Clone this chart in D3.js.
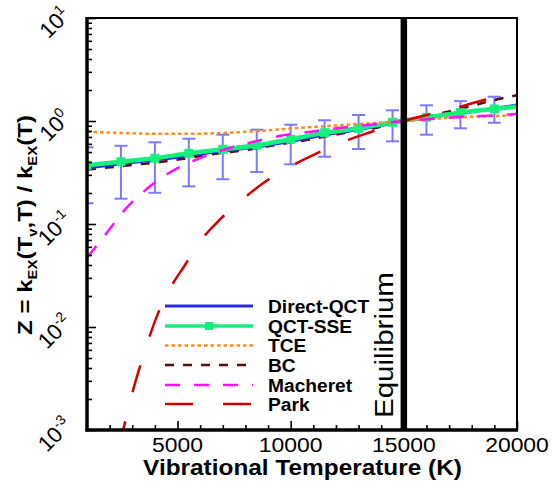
<!DOCTYPE html>
<html>
<head>
<meta charset="utf-8">
<script src="https://cdn.jsdelivr.net/npm/d3@7"></script>
<style>
  body { margin: 0; background: #fff; }
  svg { display: block; }
  text { font-family: "Liberation Sans", Arial, Helvetica, sans-serif; fill: #000; }
</style>
</head>
<body>
<svg id="chart" width="552" height="483"></svg>
<script>
// ---- data -------------------------------------------------------------
// QCT-SSE fit (markers) with Direct-QCT uncertainty bars
const sseT = [1000, 2500, 4000, 5500, 7000, 8500, 10000, 11500, 13000, 14500, 16000, 17500, 19000];
const sseZ = [0.372, 0.403, 0.435, 0.486, 0.531, 0.581, 0.664, 0.769, 0.849, 0.971, 1.086, 1.205, 1.309];
const sseEndT = 20000;
const sseEndZ = 1.38;
const errLow  = [0.159, 0.176, 0.201, 0.232, 0.272, 0.320, 0.380, 0.450, 0.535, 0.635, 0.736, 0.849, 0.962];
const errHigh = [0.555, 0.575, 0.621, 0.673, 0.736, 0.823, 0.920, 1.016, 1.143, 1.270, 1.420, 1.560, 1.720];

// Direct-QCT
const qctT = [1000, 2500, 4000, 5500, 7000, 8500, 10000, 11500, 13000, 14500, 15000, 16000, 17500, 19000, 20000];
const qctZ = [0.350, 0.385, 0.418, 0.462, 0.510, 0.560, 0.635, 0.730, 0.825, 0.950, 1.000, 1.075, 1.190, 1.320, 1.430];

// TCE
const tceT = [1000, 2500, 4000, 5500, 7000, 8000, 9000, 10000, 11000, 12000, 13000, 14000, 15000, 16000, 17000, 18000, 19000, 20000];
const tceZ = [0.787, 0.765, 0.752, 0.752, 0.765, 0.785, 0.810, 0.845, 0.875, 0.905, 0.935, 0.965, 1.000, 1.040, 1.070, 1.100, 1.120, 1.140];

// BC
const bcT = [1000, 3000, 4700, 6300, 8000, 9800, 10700, 12300, 14000, 15000, 16000, 17000, 18000, 19000, 20000];
const bcZ = [0.338, 0.374, 0.412, 0.468, 0.523, 0.607, 0.654, 0.760, 0.880, 1.000, 1.100, 1.240, 1.400, 1.600, 1.780];

// Macheret
const macT = [1000, 1800, 2600, 3500, 4600, 5700, 7000, 8200, 9500, 10900, 12000, 13400, 15000, 16000, 17300, 18700, 20000];
const macZ = [0.047, 0.078, 0.132, 0.206, 0.311, 0.409, 0.523, 0.616, 0.715, 0.787, 0.849, 0.915, 1.000, 1.040, 1.087, 1.125, 1.170];

// Park
const parkT = [2400, 2600, 2900, 3270, 3640, 4080, 4590, 5330, 5990, 6880, 7840, 8870, 9970, 11150, 12330, 13580, 15000, 16010, 17260, 18660, 20000];
const parkZ = [0.00066, 0.001, 0.00188, 0.00368, 0.00668, 0.0126, 0.022, 0.040, 0.0673, 0.111, 0.171, 0.257, 0.360, 0.486, 0.630, 0.787, 1.000, 1.143, 1.330, 1.620, 1.790];

// axes
const xMajorTicks = [5000, 10000, 15000, 20000];
const xMinorTicks = [2000, 3000, 4000, 6000, 7000, 8000, 9000, 11000, 12000, 13000, 14000, 16000, 17000, 18000, 19000];
const yMajorTicks = [1e-3, 1e-2, 1e-1, 1, 10];
const yTickExponents = ["-3", "-2", "-1", "0", "1"];
const equilibriumT = 15000;
const legendNames = ["Direct-QCT", "QCT-SSE", "TCE", "BC", "Macheret", "Park"];

// ---- layout -----------------------------------------------------------
const X0 = 87, X1 = 517, Y0 = 18, Y1 = 430;
const svg = d3.select("#chart");
const x = d3.scaleLinear().domain([1000, 20000]).range([X0, X1]);
const y = d3.scaleLog().domain([1e-3, 1e1]).range([Y1, Y0]);

svg.append("rect").attr("width", 552).attr("height", 483).attr("fill", "#fff");

svg.append("defs").append("clipPath").attr("id", "plotClip")
  .append("rect").attr("x", X0).attr("y", Y0).attr("width", X1 - X0).attr("height", Y1 - Y0);

const styles = {
  qct:  { color: "#2a2ae8", width: 3,   dash: null },
  sse:  { color: "#16ef7c", width: 4.5, dash: null },
  tce:  { color: "#ff8a1c", width: 2.5, dash: "3.5,3" },
  bc:   { color: "#5a0c0c", width: 2.5, dash: "9,9" },
  mac:  { color: "#ff10ff", width: 2.5, dash: "15,14" },
  park: { color: "#d20000", width: 2.5, dash: "28,30" }
};

const plot = svg.append("g").attr("clip-path", "url(#plotClip)");

// error bars
const errColor = "#7a7aff";
const bars = plot.append("g").attr("stroke", errColor).attr("stroke-width", 2);
sseT.forEach((t, i) => {
  const cx = x(t);
  bars.append("line").attr("x1", cx).attr("x2", cx).attr("y1", y(errLow[i])).attr("y2", y(errHigh[i]));
  bars.append("line").attr("x1", cx - 6.5).attr("x2", cx + 6.5).attr("y1", y(errLow[i])).attr("y2", y(errLow[i]));
  bars.append("line").attr("x1", cx - 6.5).attr("x2", cx + 6.5).attr("y1", y(errHigh[i])).attr("y2", y(errHigh[i]));
});

const line = d3.line().x(d => x(d[0])).y(d => y(d[1])).curve(d3.curveMonotoneX);
function drawCurve(ts, zs, st) {
  plot.append("path")
    .datum(ts.map((t, i) => [t, zs[i]]))
    .attr("d", line)
    .attr("fill", "none")
    .attr("stroke", st.color)
    .attr("stroke-width", st.width)
    .attr("stroke-dasharray", st.dash);
}

drawCurve(bcT, bcZ, styles.bc);
drawCurve(qctT, qctZ, styles.qct);
drawCurve(sseT.concat([sseEndT]), sseZ.concat([sseEndZ]), styles.sse);
plot.append("g").selectAll("rect").data(sseT.map((t, i) => [t, sseZ[i]])).join("rect")
  .attr("x", d => x(d[0]) - 4.5).attr("y", d => y(d[1]) - 4.5)
  .attr("width", 9).attr("height", 9).attr("fill", styles.sse.color);
drawCurve(tceT, tceZ, styles.tce);
drawCurve(macT, macZ, styles.mac);
drawCurve(parkT, parkZ, styles.park);

// equilibrium marker
svg.append("line")
  .attr("x1", x(equilibriumT)).attr("x2", x(equilibriumT))
  .attr("y1", Y0).attr("y2", Y1)
  .attr("stroke", "#000").attr("stroke-width", 6.5);

// ---- axes -------------------------------------------------------------
function tickStyle(g) {
  g.select(".domain").remove();
  g.selectAll(".tick line").attr("stroke", "#000").attr("stroke-width", 1.6);
  g.selectAll(".tick text").remove();
}
svg.append("g").attr("transform", `translate(0,${Y1})`)
  .call(d3.axisBottom(x).tickValues(xMinorTicks).tickSize(-5).tickFormat("")).call(tickStyle);
svg.append("g").attr("transform", `translate(0,${Y1})`)
  .call(d3.axisBottom(x).tickValues(xMajorTicks).tickSize(-9).tickFormat("")).call(tickStyle);

const yMinorTicks = [];
yMajorTicks.slice(0, -1).forEach(d => { for (let k = 2; k <= 9; k++) yMinorTicks.push(d * k); });
svg.append("g").attr("transform", `translate(${X0},0)`)
  .call(d3.axisLeft(y).tickValues(yMinorTicks).tickSize(-5).tickFormat("")).call(tickStyle);
svg.append("g").attr("transform", `translate(${X0},0)`)
  .call(d3.axisLeft(y).tickValues(yMajorTicks).tickSize(-9).tickFormat("")).call(tickStyle);

// frame
svg.append("rect").attr("x", X0).attr("y", Y0).attr("width", X1 - X0).attr("height", Y1 - Y0)
  .attr("fill", "none").attr("stroke", "#000").attr("stroke-width", 2);
svg.append("line").attr("x1", X0).attr("x2", X0).attr("y1", Y0 - 1).attr("y2", Y1 + 1.5)
  .attr("stroke", "#000").attr("stroke-width", 3.5);
svg.append("line").attr("x1", X0 - 1.5).attr("x2", X1 + 1).attr("y1", Y1).attr("y2", Y1)
  .attr("stroke", "#000").attr("stroke-width", 3.5);

// stretch a text node horizontally to a given width
function fit(textSel, target) {
  const w = textSel.node().getBBox().width;
  textSel.attr("transform", `scale(${target / w},1)`);
  return target / w;
}

// x tick labels
let xScaleFactor = null;
xMajorTicks.forEach(v => {
  const g = svg.append("g").attr("transform", `translate(${x(v)},451.5)`);
  const t = g.append("text").attr("text-anchor", "middle").attr("font-size", 20.5).text(String(v));
  if (xScaleFactor === null) xScaleFactor = fit(t, 51);
  else t.attr("transform", `scale(${xScaleFactor},1)`);
});

// x title
{
  const g = svg.append("g").attr("transform", "translate(302.5,475)");
  const t = g.append("text").attr("text-anchor", "middle").attr("font-size", 22)
    .attr("font-weight", "bold").text("Vibrational Temperature (K)");
  fit(t, 319);
}

// y tick labels: 10^n, tilted
yMajorTicks.forEach((v, i) => {
  const g = svg.append("g").attr("transform", `translate(60,${y(v) + 10}) rotate(-45)`);
  const t = g.append("text").attr("text-anchor", "middle").attr("font-size", 22);
  t.append("tspan").text("10");
  t.append("tspan").attr("font-size", 14).attr("dy", -9).text(yTickExponents[i]);
});

// y title
{
  const g = svg.append("g").attr("transform", "translate(32,225) rotate(-90)");
  const t = g.append("text").attr("text-anchor", "middle").attr("font-size", 21).attr("font-weight", "bold");
  t.append("tspan").text("Z = k");
  t.append("tspan").attr("font-size", 13).attr("dy", 5).text("EX");
  t.append("tspan").attr("dy", -5).text("(T");
  t.append("tspan").attr("font-size", 13).attr("dy", 5).text("v");
  t.append("tspan").attr("dy", -5).text(",T) / k");
  t.append("tspan").attr("font-size", 13).attr("dy", 5).text("EX");
  t.append("tspan").attr("dy", -5).text("(T)");
  fit(t, 220);
}

// equilibrium label
{
  const g = svg.append("g").attr("transform", `translate(${x(equilibriumT) - 11},418) rotate(-90)`);
  const t = g.append("text").attr("font-size", 25).text("Equilibrium");
  fit(t, 146);
}

// ---- legend -----------------------------------------------------------
const legendRows = [306, 326, 345.5, 365, 385, 404];
const legendStyles = [styles.qct, styles.sse, styles.tce, styles.bc, styles.mac, styles.park];
const legend = svg.append("g");
let legScale = null;
legendNames.forEach((name, i) => {
  const st = legendStyles[i];
  const ry = legendRows[i];
  legend.append("line").attr("x1", 165).attr("x2", 253).attr("y1", ry).attr("y2", ry)
    .attr("stroke", st.color).attr("stroke-width", Math.min(st.width, 3.5)).attr("stroke-dasharray", st.dash);
  if (i === 1) {
    legend.append("rect").attr("x", 209 - 4).attr("y", ry - 4).attr("width", 8).attr("height", 8)
      .attr("fill", st.color);
  }
  const g = legend.append("g").attr("transform", `translate(268,${ry + 6.5})`);
  const t = g.append("text").attr("font-size", 18.5).attr("font-weight", "bold").text(name);
  if (legScale === null) legScale = fit(t, 102);
  else t.attr("transform", `scale(${legScale},1)`);
});
</script>
</body>
</html>
